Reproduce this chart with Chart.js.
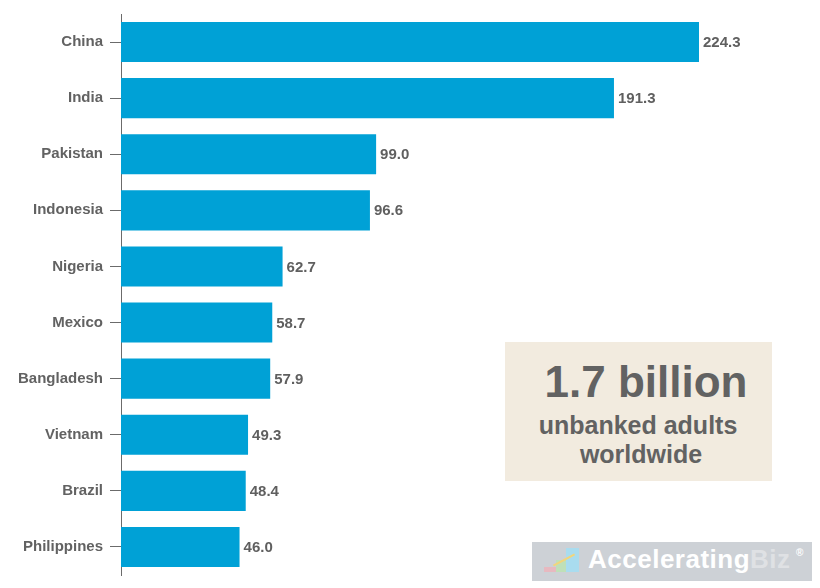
<!DOCTYPE html>
<html>
<head>
<meta charset="utf-8">
<script src="https://cdn.jsdelivr.net/npm/chart.js@4.4.0/dist/chart.umd.min.js"></script>
<style>
  body { margin: 0; background: #fff; font-family: "Liberation Sans", Arial, sans-serif; }
  #wrap { position: relative; width: 820px; height: 588px; }
  .note { position: absolute; font-weight: bold; color: #626262; text-align: center; white-space: nowrap; }
  #logo { position: absolute; left: 532px; top: 542px; width: 280px; height: 39px; background: #cdd1d6; }
  #logo span { position: absolute; font-weight: bold; white-space: nowrap; }
  #logo i { position: absolute; display: block; }
</style>
</head>
<body>
<div id="wrap">
  <canvas id="unbankedChart"></canvas>

  <div style="position:absolute; left:505px; top:342px; width:267px; height:139px; background:#f2ebdf;"></div>
  <div class="note" style="left:525px; top:360px; width:242px; font-size:44px; line-height:44px;">1.7 billion</div>
  <div class="note" style="left:505px; top:413px; width:266px; font-size:25px; line-height:25px;">unbanked adults</div>
  <div class="note" style="left:510px; top:442px; width:262px; font-size:25px; line-height:25px;">worldwide</div>

  <div id="logo">
    <i style="left:12px; top:25px; width:13px; height:5px; background:#e7b9c0;"></i>
    <i style="left:24px; top:18px; width:10px; height:12px; background:#bfe0b8;"></i>
    <i style="left:34px; top:6px; width:13px; height:24px; background:#a9dcef;"></i>
    <i style="left:20px; top:17px; width:24px; height:2px; background:#f2d57a; transform:rotate(-28deg);"></i>
    <span style="left:56px; top:4px; font-size:26px; line-height:26px; letter-spacing:0.5px; color:#ffffff;">Accelerating<span style="position:static; color:#dfe1e4;">Biz</span></span>
    <span style="left:264px; top:6px; font-size:10px; line-height:10px; color:#ffffff;">®</span>
  </div>
</div>

<script>
const countries = ['China', 'India', 'Pakistan', 'Indonesia', 'Nigeria', 'Mexico', 'Bangladesh', 'Vietnam', 'Brazil', 'Philippines'];
const unbankedMillions = [224.3, 191.3, 99.0, 96.6, 62.7, 58.7, 57.9, 49.3, 48.4, 46.0];

const canvas = document.getElementById('unbankedChart');

// writes the number just past the end of each bar
const valueLabels = {
  id: 'valueLabels',
  afterDatasetsDraw(chart) {
    const ctx = chart.ctx;
    const meta = chart.getDatasetMeta(0);
    ctx.save();
    ctx.font = 'bold 15px "Liberation Sans", Arial, sans-serif';
    ctx.fillStyle = '#5f5f5f';
    ctx.textAlign = 'left';
    ctx.textBaseline = 'middle';
    meta.data.forEach((bar, i) => {
      ctx.fillText(unbankedMillions[i].toFixed(1), bar.x + 4, bar.y + 1);
    });
    ctx.restore();
  }
};

new Chart(canvas, {
  type: 'bar',
  data: {
    labels: countries,
    datasets: [{
      data: unbankedMillions,
      backgroundColor: '#00a1d6',
      borderWidth: 0,
      categoryPercentage: 1,
      barPercentage: 0.715
    }]
  },
  options: {
    indexAxis: 'y',
    responsive: true,
    maintainAspectRatio: false,
    animation: false,
    layout: { padding: { top: 14, bottom: 13, right: 29, left: 0 } },
    plugins: { legend: { display: false }, tooltip: { enabled: false } },
    scales: {
      x: { display: false, min: 0, max: 260 },
      y: {
        afterFit: (scale) => {
          scale.width = 121;
          scale.paddingTop = 0;
          scale.paddingBottom = 0;
        },
        border: { display: true, color: '#6b6b6b', width: 1 },
        grid: {
          display: true,
          drawOnChartArea: false,
          drawTicks: true,
          tickLength: 11,
          offset: false,
          color: '#6b6b6b'
        },
        ticks: {
          padding: 7,
          color: '#626262',
          font: { family: '"Liberation Sans", Arial, sans-serif', size: 15, weight: 'bold' }
        }
      }
    }
  },
  plugins: [valueLabels]
});
</script>
</body>
</html>
